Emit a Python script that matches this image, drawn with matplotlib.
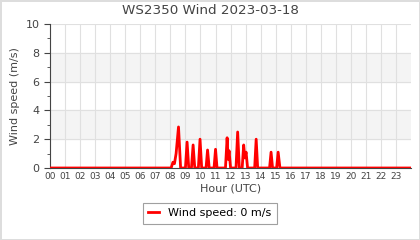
import matplotlib
matplotlib.use("Agg")
from matplotlib import pyplot as plt

# hours (UTC) and wind speed (m/s)
hours = [0.0, 8.05, 8.17, 8.27, 8.38, 8.54, 8.68,
         9.0, 9.11, 9.22, 9.4, 9.51, 9.62, 9.86, 9.97, 10.08,
         10.37, 10.47, 10.58, 10.9, 11.0, 11.1,
         11.66, 11.77, 11.84, 11.9, 12.0, 12.36, 12.47, 12.58,
         12.77, 12.87, 12.95, 13.03, 13.13, 13.6, 13.7, 13.8,
         14.59, 14.69, 14.79, 15.06, 15.16, 15.28, 24.0]
speed = [0, 0, 0.4, 0.3, 1.0, 2.85, 0,
         0, 1.8, 0, 0, 1.6, 0, 0, 2.0, 0,
         0, 1.25, 0, 0, 1.3, 0,
         0, 2.1, 0.6, 1.2, 0, 0, 2.5, 0,
         0, 1.6, 0.7, 1.1, 0, 0, 2.0, 0,
         0, 1.1, 0, 0, 1.1, 0, 0]
hour_labels = ["%02d" % h for h in range(24)]

fig = plt.figure(figsize=(4.2, 2.4), dpi=100)
fig.patch.set_edgecolor("#dddddd")
fig.patch.set_linewidth(2)
ax = fig.add_axes([0.119, 0.30, 0.860, 0.60])

for lo in (2, 6):
    ax.axhspan(lo, lo + 2, color="#f4f4f4", zorder=0)
ax.grid(True, color="#e0e0e0", linewidth=0.8, zorder=1)
ax.set_axisbelow(True)

ax.plot(hours, speed, color="#ff0000", linewidth=2, zorder=3,
        label="Wind speed: 0 m/s")

ax.set_xlim(0, 24)
ax.set_ylim(0, 10)
ax.set_xticks(range(24))
ax.set_xticklabels(hour_labels)
ax.set_yticks(range(0, 11, 2))
ax.set_yticks(range(1, 10, 2), minor=True)
ax.tick_params(axis="x", length=0, labelsize=6.5, colors="#444444", pad=3)
ax.tick_params(axis="y", which="major", length=4, labelsize=8, colors="#444444")
ax.tick_params(axis="y", which="minor", length=2, colors="#444444")
for s in ("top", "right"):
    ax.spines[s].set_visible(False)
ax.spines["left"].set_color("#444444")
ax.spines["bottom"].set_color("#444444")

fig.text(0.5, 1 - 10.5 / 240, "WS2350 Wind 2023-03-18", fontsize=9.7,
         color="#444444", ha="center", va="center")
ax.set_xlabel("Hour (UTC)", fontsize=8, color="#444444", labelpad=2)
ax.set_ylabel("Wind speed (m/s)", fontsize=8, color="#444444")

leg = ax.legend(loc="upper center", bbox_to_anchor=(0.5, 1 - 197 / 240),
                bbox_transform=fig.transFigure, fontsize=8,
                frameon=True, fancybox=False, handlelength=1.0,
                borderpad=0.5)
leg.get_frame().set_edgecolor("#888888")
leg.get_frame().set_linewidth(0.8)

fig.savefig("out.png", dpi=100, edgecolor=fig.get_edgecolor())
